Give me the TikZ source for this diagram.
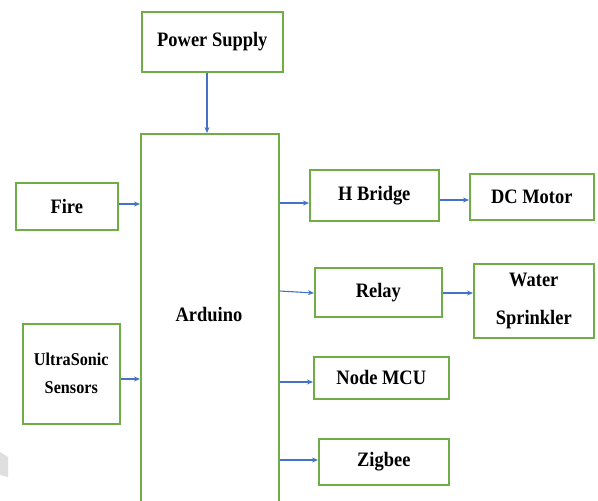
\documentclass[tikz,border=0pt]{standalone}
\usepackage{fontspec}
\setmainfont[FakeStretch=0.9]{Liberation Serif}
\usetikzlibrary{arrows.meta}
\definecolor{boxgreen}{RGB}{112,173,71}
\definecolor{arrblue}{RGB}{68,114,196}
\begin{document}
\begin{tikzpicture}[x=1pt,y=-1pt,
  box/.style={draw=boxgreen,line width=1.6pt,fill=white,inner sep=0pt,anchor=north west},
  lbl/.style={font=\bfseries\fontsize{20.5}{22}\selectfont},
  slbl/.style={font=\bfseries\fontsize{18}{28}\selectfont,align=center},
  arr/.style={draw=arrblue,line width=1.1pt,-{Stealth[length=6pt,width=5pt]}}]
\clip (0,0) rectangle (598,501);
\fill[white] (0,0) rectangle (598,501);
\fill[gray!25] (0,452) -- (8,457) -- (8,477) -- (0,475) -- cycle;
% boxes
\node[box,minimum width=141pt,minimum height=60pt,lbl] (ps) at (141,11) {Power Supply};
\node[box,minimum width=138pt,minimum height=380pt] (ard) at (140,133) {};
\node[lbl] (ardtxt) at (209,315) {Arduino};
\node[box,minimum width=102pt,minimum height=47pt,lbl] (fire) at (15,182) {Fire};
\node[box,minimum width=97pt,minimum height=100pt,slbl] (us) at (22,323) {UltraSonic\\Sensors};
\node[box,minimum width=129pt,minimum height=51pt,lbl] (hb) at (309,169) {H Bridge};
\node[box,minimum width=124pt,minimum height=46pt,lbl] (dc) at (469,173) {DC Motor};
\node[box,minimum width=127pt,minimum height=49pt,lbl] (relay) at (314,267) {Relay};
\node[box,minimum width=120pt,minimum height=74pt,lbl,align=center,font=\bfseries\fontsize{20.5}{38}\selectfont] (ws) at (473,263) {Water\\Sprinkler};
\node[box,minimum width=135pt,minimum height=42pt,lbl] (mcu) at (313,356) {Node MCU};
\node[box,minimum width=130pt,minimum height=46pt,lbl] (zig) at (318,438) {Zigbee};
% connectors
\draw[arr] (ps.south -| 207,0) -- (ard.north -| 207,0);
\draw[arr] (fire.east |- 0,204) -- (ard.west |- 0,204);
\draw[arr] (us.east |- 0,379) -- (ard.west |- 0,379);
\draw[arr] (ard.east |- 0,203) -- (hb.west |- 0,203);
\draw[arr] (hb.east |- 0,200) -- (dc.west |- 0,200);
\draw[arr] (ard.east |- 0,291) -- (relay.west |- 0,293);
\draw[arr] (relay.east |- 0,293) -- (ws.west |- 0,293);
\draw[arr] (ard.east |- 0,382) -- (mcu.west |- 0,382);
\draw[arr] (ard.east |- 0,460) -- (zig.west |- 0,460);
\end{tikzpicture}
\end{document}
